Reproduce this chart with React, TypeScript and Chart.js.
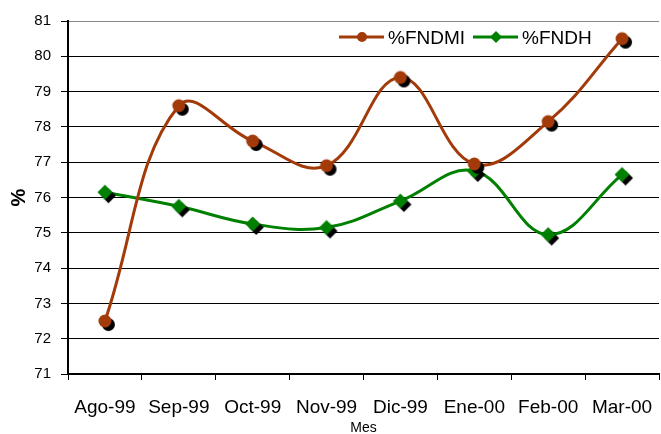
import React, { useEffect, useRef } from "react";
import { Chart, registerables } from "chart.js";

Chart.register(...registerables);

const categories = ["Ago-99", "Sep-99", "Oct-99", "Nov-99", "Dic-99", "Ene-00", "Feb-00", "Mar-00"];
const fndmiValues = [72.5, 78.6, 77.6, 76.9, 79.4, 76.95, 78.15, 80.5];
const fndhValues = [76.15, 75.75, 75.25, 75.15, 75.9, 76.75, 74.95, 76.65];
const seriesLabels = ["%FNDMI", "%FNDH"];
const yMin = 71;
const yMax = 81;
const xTitle = "Mes";
const yTitle = "%";

const ORANGE = "#A23A0A";
const GREEN = "#008000";
const FONT = "'Liberation Sans', Arial, sans-serif";

function makeMarker(kind: "circle" | "diamond", color: string, r: number, off: number) {
  const size = Math.ceil((r + off) * 2) + 4;
  const cv = document.createElement("canvas");
  cv.width = size;
  cv.height = size;
  const ctx = cv.getContext("2d")!;
  const c = size / 2;
  const shape = (cx: number, cy: number, fill: string) => {
    ctx.beginPath();
    if (kind === "circle") {
      ctx.arc(cx, cy, r, 0, Math.PI * 2);
    } else {
      ctx.moveTo(cx, cy - r);
      ctx.lineTo(cx + r, cy);
      ctx.lineTo(cx, cy + r);
      ctx.lineTo(cx - r, cy);
      ctx.closePath();
    }
    ctx.fillStyle = fill;
    ctx.fill();
  };
  shape(c + off, c + off, "#000");
  shape(c, c, color);
  return cv;
}

const legendPlugin = {
  id: "customLegend",
  afterDraw(chart: any) {
    const ctx = chart.ctx;
    const items = [
      { x: 339, color: ORANGE, kind: "circle", text: seriesLabels[0] },
      { x: 473, color: GREEN, kind: "diamond", text: seriesLabels[1] },
    ];
    const y = 37;
    ctx.save();
    for (const it of items) {
      ctx.strokeStyle = it.color;
      ctx.lineWidth = 3;
      ctx.beginPath();
      ctx.moveTo(it.x, y);
      ctx.lineTo(it.x + 45, y);
      ctx.stroke();
      const cx = it.x + 23;
      ctx.fillStyle = it.color;
      ctx.beginPath();
      if (it.kind === "circle") {
        ctx.arc(cx, y, 5, 0, Math.PI * 2);
      } else {
        ctx.moveTo(cx, y - 6);
        ctx.lineTo(cx + 6, y);
        ctx.lineTo(cx, y + 6);
        ctx.lineTo(cx - 6, y);
        ctx.closePath();
      }
      ctx.fill();
      ctx.fillStyle = "#000";
      ctx.font = `19px ${FONT}`;
      ctx.textBaseline = "middle";
      ctx.textAlign = "left";
      ctx.fillText(it.text, it.x + 49, y + 2);
    }
    ctx.restore();
  },
};

export default function App() {
  const ref = useRef<HTMLCanvasElement | null>(null);
  useEffect(() => {
    if (!ref.current) return;
    const orangeMarker = makeMarker("circle", ORANGE, 6.5, 3.5);
    const greenMarker = makeMarker("diamond", GREEN, 7.5, 3.5);
    const chart = new Chart(ref.current, {
      type: "line",
      data: {
        labels: categories,
        datasets: [
          {
            label: seriesLabels[0],
            data: fndmiValues,
            borderColor: ORANGE,
            backgroundColor: ORANGE,
            borderWidth: 3,
            tension: 0.4,
            pointStyle: orangeMarker as any,
            pointRadius: 6,
            fill: false,
          },
          {
            label: seriesLabels[1],
            data: fndhValues,
            borderColor: GREEN,
            backgroundColor: GREEN,
            borderWidth: 3,
            tension: 0.4,
            pointStyle: greenMarker as any,
            pointRadius: 6,
            fill: false,
          },
        ],
      },
      options: {
        responsive: false,
        animation: false,
        layout: { autoPadding: false, padding: { top: 21, right: 2, left: 0, bottom: 0 } },
        plugins: {
          legend: { display: false },
          tooltip: { enabled: false },
        },
        scales: {
          x: {
            type: "category",
            offset: true,
            grid: {
              offset: true,
              drawOnChartArea: false,
              drawTicks: true,
              tickLength: 6,
              color: "#000",
              tickColor: "#000",
            },
            border: { color: "#000", width: 2 },
            ticks: {
              color: "#000",
              font: { size: 19, family: FONT },
              padding: 16,
              maxRotation: 0,
              autoSkip: false,
            },
            title: {
              display: true,
              text: xTitle,
              color: "#000",
              font: { size: 14, family: FONT },
              padding: { top: 0, bottom: -3 },
            },
            afterFit: (s: any) => {
              s.height = 60;
              s.paddingLeft = 0;
              s.paddingRight = 0;
            },
          },
          y: {
            min: yMin,
            max: yMax,
            grid: {
              color: (c: any) => (c.tick && c.tick.value === yMax ? "#888" : "#000"),
              tickColor: "#000",
              tickLength: 7,
              lineWidth: 1,
            },
            border: { color: "#000", width: 2 },
            ticks: {
              stepSize: 1,
              color: "#000",
              font: { size: 15, family: FONT },
              padding: 10,
            },
            title: {
              display: true,
              text: yTitle,
              color: "#000",
              font: { size: 20, weight: "bold", family: FONT },
              padding: { top: 7, bottom: 0 },
            },
            afterFit: (s: any) => {
              s.width = 68;
              s.paddingTop = 0;
              s.paddingBottom = 0;
            },
          },
        },
      },
      plugins: [legendPlugin],
    });
    return () => chart.destroy();
  }, []);
  return (
    <div style={{ position: "absolute", left: 0, top: 0, width: 661, height: 434, background: "#fff" }}>
      <canvas ref={ref} width={661} height={434} />
    </div>
  );
}
